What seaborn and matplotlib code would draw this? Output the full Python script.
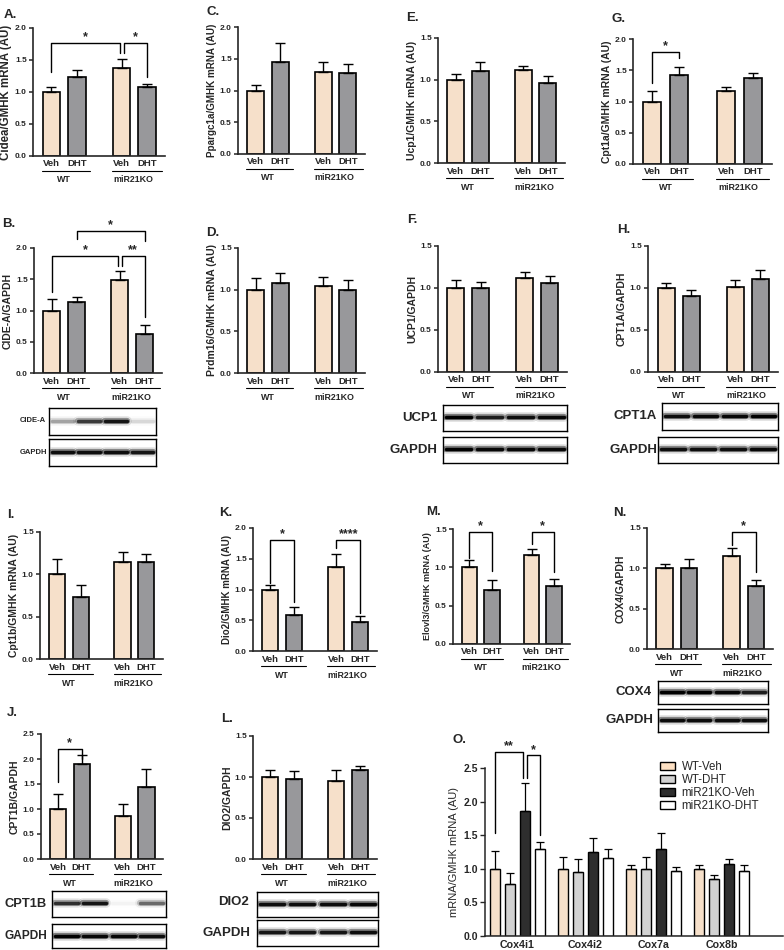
import numpy as np
import pandas as pd
import matplotlib
import matplotlib.pyplot as plt
import seaborn as sns
from matplotlib.transforms import blended_transform_factory, offset_copy
from matplotlib.patches import Patch
from matplotlib.ticker import FormatStrFormatter

# bar layout shared by the small panels
bar_x = [0, 1, 2.75, 3.75]
bar_labels = ["Veh", "DHT", "Veh", "DHT"]
geno_labels = ["WT", "miR21KO"]
geno_x = [0.5, 3.2]

# means / SEM (order: WT-Veh, WT-DHT, KO-Veh, KO-DHT)
A_mean = [1.00, 1.23, 1.37, 1.08]
A_sem = [0.08, 0.11, 0.14, 0.04]
C_mean = [1.00, 1.45, 1.29, 1.28]
C_sem = [0.09, 0.30, 0.16, 0.13]
E_mean = [1.00, 1.11, 1.12, 0.965]
E_sem = [0.07, 0.10, 0.05, 0.085]
G_mean = [1.00, 1.42, 1.17, 1.38]
G_sem = [0.17, 0.14, 0.06, 0.08]
B_mean = [1.00, 1.14, 1.485, 0.63]
B_sem = [0.18, 0.07, 0.145, 0.14]
D_mean = [1.00, 1.08, 1.04, 1.00]
D_sem = [0.145, 0.115, 0.115, 0.115]
F_mean = [1.00, 1.00, 1.12, 1.055]
F_sem = [0.09, 0.07, 0.07, 0.085]
H_mean = [1.00, 0.90, 1.01, 1.11]
H_sem = [0.06, 0.08, 0.08, 0.10]
I_mean = [1.00, 0.73, 1.15, 1.15]
I_sem = [0.18, 0.14, 0.11, 0.09]
K_mean = [1.00, 0.59, 1.37, 0.47]
K_sem = [0.07, 0.13, 0.20, 0.10]
M_mean = [1.00, 0.70, 1.16, 0.76]
M_sem = [0.09, 0.13, 0.08, 0.09]
N_mean = [1.00, 1.00, 1.15, 0.78]
N_sem = [0.05, 0.12, 0.10, 0.08]
J_mean = [1.00, 1.90, 0.86, 1.44]
J_sem = [0.30, 0.18, 0.24, 0.36]
L_mean = [1.00, 0.97, 0.95, 1.08]
L_sem = [0.09, 0.10, 0.14, 0.06]

# panel O
o_genes = ["Cox4i1", "Cox4i2", "Cox7a", "Cox8b"]
o_groups = ["WT-Veh", "WT-DHT", "miR21KO-Veh", "miR21KO-DHT"]
o_wt_veh = [1.00, 1.00, 1.00, 1.00]
o_wt_veh_sem = [0.26, 0.17, 0.06, 0.05]
o_wt_dht = [0.78, 0.955, 1.00, 0.85]
o_wt_dht_sem = [0.16, 0.19, 0.18, 0.065]
o_ko_veh = [1.86, 1.25, 1.30, 1.065]
o_ko_veh_sem = [0.42, 0.21, 0.24, 0.075]
o_ko_dht = [1.29, 1.16, 0.965, 0.97]
o_ko_dht_sem = [0.11, 0.14, 0.065, 0.09]

# western blot band intensities per lane
cidea_bands = [0.25, 0.65, 0.85, 0.1]
gapdh_b_bands = [0.9, 0.9, 0.9, 0.85]
ucp1_bands = [1.0, 0.8, 0.9, 0.95]
gapdh_f_bands = [1.0, 0.95, 0.95, 0.95]
cpt1a_bands = [0.9, 0.95, 0.95, 1.0]
gapdh_h_bands = [0.9, 0.9, 0.9, 0.95]
cox4_bands = [1.0, 1.0, 0.95, 0.8]
gapdh_n_bands = [0.9, 0.9, 0.9, 0.9]
cpt1b_bands = [0.7, 0.85, 0.03, 0.45]
gapdh_j_bands = [1.0, 0.95, 0.95, 0.9]
dio2_bands = [0.9, 0.9, 0.9, 0.95]
gapdh_l_bands = [0.85, 0.85, 0.85, 0.9]

veh_color = "#FDE0C3"
dht_color = "#97979C"
o_palette = {"WT-Veh": "#FDE0C3", "WT-DHT": "#D2D2D2",
             "miR21KO-Veh": "#2E2E2E", "miR21KO-DHT": "#FFFFFF"}

sns.set_style("ticks")
plt.rcParams['font.family'] = ['Liberation Sans', 'DejaVu Sans']
plt.rcParams['font.weight'] = 'bold'
plt.rcParams['axes.labelweight'] = 'bold'

W, H = 784, 950
fig = plt.figure(figsize=(W / 100, H / 100), dpi=100)


def px_axes(l, t, r, b):
    return fig.add_axes([l / W, 1 - b / H, (r - l) / W, (b - t) / H])


def bracket(ax, x1, x2, yt, yl, yr, star):
    ax.plot([x1, x1, x2, x2], [yl, yt, yt, yr], color="black", lw=1.0, clip_on=False)
    ax.annotate(star, xy=((x1 + x2) / 2, yt), xytext=(0, 4), textcoords="offset points",
                ha="center", va="center", fontsize=9, fontweight="bold", annotation_clip=False)


def small_panel(rect, letter, letter_xy, ylabel, means, sems, ymax, brackets=(), ylsize=7.5):
    ax = px_axes(*rect)
    df = pd.DataFrame({"pos": bar_x, "value": means, "treat": bar_labels})
    sns.barplot(data=df, x="pos", y="value", hue="treat", native_scale=True,
                palette={"Veh": veh_color, "DHT": dht_color}, width=0.68, dodge=False,
                edgecolor="black", linewidth=1.2, errorbar=None, legend=False, ax=ax)
    ax.errorbar(bar_x, means, yerr=[np.zeros(4), sems], fmt="none", ecolor="black",
                elinewidth=1.0, capsize=3.5, capthick=1.0)
    ax.set_xlim(-0.72, 4.45)
    ax.set_ylim(0, ymax)
    ax.set_yticks(np.arange(0, ymax + 0.01, 0.5))
    ax.yaxis.set_major_formatter(FormatStrFormatter("%.1f"))
    ax.set_xticks([])
    ax.set_xlabel("")
    ax.set_ylabel(ylabel, fontsize=ylsize, labelpad=2)
    ax.tick_params(axis="y", labelsize=6, length=3, width=1.1, pad=1.5)
    for s in ["top", "right"]:
        ax.spines[s].set_visible(False)
    for s in ["left", "bottom"]:
        ax.spines[s].set_linewidth(1.2)

    base = blended_transform_factory(ax.transData, ax.transAxes)
    t1 = offset_copy(base, fig=fig, y=-8, units="dots")
    for x, lab in zip(bar_x, bar_labels):
        ax.text(x, 0, lab, transform=t1, ha="center", va="center", fontsize=6.8, fontweight="bold")
    t2 = offset_copy(base, fig=fig, y=-15, units="dots")
    for x0, x1 in [(-0.38, 1.5), (2.37, 4.35)]:
        ax.plot([x0, x1], [0, 0], transform=t2, color="black", lw=0.8, clip_on=False)
    t3 = offset_copy(base, fig=fig, y=-24, units="dots")
    for x, lab in zip(geno_x, geno_labels):
        ax.text(x, 0, lab, transform=t3, ha="center", va="center", fontsize=6.4, fontweight="bold")

    for b in brackets:
        bracket(ax, *b)
    fig.text(letter_xy[0] / W, 1 - letter_xy[1] / H, letter, fontsize=9.5,
             fontweight="bold", ha="left", va="center")
    return ax


def blot(rect, label, lanes, fontsize, label_right, label_y):
    ax = px_axes(*rect)
    ax.set_xlim(0, 4)
    ax.set_ylim(0, 1)
    ax.set_xticks([])
    ax.set_yticks([])
    for s in ax.spines.values():
        s.set_visible(True)
        s.set_linewidth(1.0)
        s.set_color("black")
    for i, v in enumerate(lanes):
        xs = [i + 0.1, i + 0.9]
        ax.plot(xs, [0.52, 0.52], color="black", lw=7, alpha=0.12 * v, solid_capstyle="round")
        ax.plot(xs, [0.52, 0.52], color="black", lw=4.5, alpha=0.45 * v, solid_capstyle="round")
        ax.plot(xs, [0.52, 0.52], color="black", lw=2.5, alpha=v, solid_capstyle="round")
    fig.text(label_right / W, 1 - label_y / H, label, ha="right", va="center",
             fontsize=fontsize, fontweight="bold")


# row 1
small_panel((33, 28, 165, 156), "A.", (4, 15), "Cidea/GMHK mRNA (AU)", A_mean, A_sem, 2.0,
            [(0, 2.67, 1.77, 1.32, 1.61, "*"), (2.83, 3.75, 1.77, 1.61, 1.23, "*")], ylsize=8.3)
small_panel((238, 27, 365, 154), "C.", (207, 12), "Ppargc1a/GMHK mRNA (AU)", C_mean, C_sem, 2.0, ylsize=7.1)
small_panel((438, 38, 565, 163), "E.", (406, 18), "Ucp1/GMHK mRNA (AU)", E_mean, E_sem, 1.5)
small_panel((633, 39, 772, 164), "G.", (611, 19), "Cpt1a/GMHK mRNA (AU)", G_mean, G_sem, 2.0,
            [(0, 1, 1.80, 1.29, 1.70, "*")])

# row 2
small_panel((34, 248, 162, 373), "B.", (2, 224), "CIDE-A/GAPDH", B_mean, B_sem, 2.0,
            [(0, 2.67, 1.87, 1.30, 1.72, "*"), (2.83, 3.75, 1.87, 1.72, 0.90, "**"),
             (1, 3.75, 2.27, 2.15, 2.12, "*")])
small_panel((238, 248, 365, 373), "D.", (206, 233), "Prdm16/GMHK mRNA (AU)", D_mean, D_sem, 1.5)
small_panel((438, 246, 567, 372), "F.", (407, 220), "UCP1/GAPDH", F_mean, F_sem, 1.5)
small_panel((648, 246, 778, 372), "H.", (617, 230), "CPT1A/GAPDH", H_mean, H_sem, 1.5)

blot((49, 408, 156, 435), "CIDE-A", cidea_bands, 5.5, 46, 421)
blot((49, 439, 156, 466), "GAPDH", gapdh_b_bands, 5.5, 47, 452)
blot((443, 405, 567, 431), "UCP1", ucp1_bands, 9.5, 437, 418)
blot((443, 437, 567, 463), "GAPDH", gapdh_f_bands, 9.5, 437, 450)
blot((662, 403, 778, 430), "CPT1A", cpt1a_bands, 9.5, 657, 416)
blot((658, 437, 778, 463), "GAPDH", gapdh_h_bands, 9.5, 657, 450)

# row 3
small_panel((40, 532, 163, 659), "I.", (7, 515), "Cpt1b/GMHK mRNA (AU)", I_mean, I_sem, 1.5)
small_panel((253, 528, 377, 651), "K.", (219, 513), "Dio2/GMHK mRNA (AU)", K_mean, K_sem, 2.0,
            [(0, 1, 1.81, 1.10, 0.80, "*"), (2.75, 3.75, 1.81, 1.67, 0.62, "****")], ylsize=7)
small_panel((453, 529, 570, 644), "M.", (426, 512), "Elovl3/GMHK mRNA (AU)", M_mean, M_sem, 1.5,
            [(0, 1, 1.46, 1.12, 0.95, "*"), (2.75, 3.75, 1.46, 1.30, 0.94, "*")], ylsize=6.5)
small_panel((647, 528, 773, 649), "N.", (613, 513), "COX4/GAPDH", N_mean, N_sem, 1.5,
            [(2.75, 3.75, 1.45, 1.29, 0.95, "*")])

blot((658, 681, 768, 704), "COX4", cox4_bands, 9.5, 652, 692)
blot((658, 709, 768, 732), "GAPDH", gapdh_n_bands, 9.5, 653, 720)

# row 4
small_panel((41, 734, 163, 859), "J.", (7, 713), "CPT1B/GAPDH", J_mean, J_sem, 2.5,
            [(0, 1, 2.21, 1.55, 2.01, "*")])
small_panel((253, 736, 377, 859), "L.", (221, 719), "DIO2/GAPDH", L_mean, L_sem, 1.5)

blot((52, 891, 166, 917), "CPT1B", cpt1b_bands, 9.3, 47, 904)
blot((52, 924, 166, 948), "GAPDH", gapdh_j_bands, 8.6, 47, 936)
blot((257, 892, 378, 917), "DIO2", dio2_bands, 9.5, 249, 902)
blot((257, 920, 378, 946), "GAPDH", gapdh_l_bands, 9.5, 250, 933)

# panel O
ax = px_axes(485, 768, 783, 936)
dfo = pd.DataFrame({
    "gene": o_genes * 4,
    "group": sum([[g] * 4 for g in o_groups], []),
    "value": o_wt_veh + o_wt_dht + o_ko_veh + o_ko_dht,
})
sns.barplot(data=dfo, x="gene", y="value", hue="group", hue_order=o_groups, palette=o_palette,
            width=0.88, gap=0.33, edgecolor="black", linewidth=1.0, errorbar=None,
            legend=False, ax=ax)
offsets = [-0.33, -0.11, 0.11, 0.33]
for off, m, s in zip(offsets, [o_wt_veh, o_wt_dht, o_ko_veh, o_ko_dht],
                     [o_wt_veh_sem, o_wt_dht_sem, o_ko_veh_sem, o_ko_dht_sem]):
    ax.errorbar(np.arange(4) + off, m, yerr=[np.zeros(4), s], fmt="none", ecolor="black",
                elinewidth=0.9, capsize=2.8, capthick=0.9)
ax.set_xlim(-0.47, 3.9)
ax.set_ylim(0, 2.5)
ax.set_yticks(np.arange(0, 2.51, 0.5))
ax.yaxis.set_major_formatter(FormatStrFormatter("%.1f"))
ax.set_xlabel("")
ax.set_ylabel("mRNA/GMHK mRNA (AU)", fontsize=8, fontweight="normal", labelpad=3)
ax.tick_params(axis="y", labelsize=7.5, length=3.5, width=1.0, pad=1.5)
ax.tick_params(axis="x", labelsize=7.7, length=0, pad=3)
for s in ["top", "right"]:
    ax.spines[s].set_visible(False)
for s in ["left", "bottom"]:
    ax.spines[s].set_linewidth(1.1)
bracket(ax, -0.33, 0.08, 2.74, 1.53, 2.35, "**")
bracket(ax, 0.14, 0.33, 2.69, 2.35, 1.50, "*")
handles = [Patch(facecolor=o_palette[g], edgecolor="black", linewidth=1.0, label=g) for g in o_groups]
ax.legend(handles=handles, loc="upper left", bbox_to_anchor=(654 / W, 1 - 755 / H),
          bbox_transform=fig.transFigure, frameon=False, prop={"size": 8.3, "weight": "normal"},
          handlelength=1.3, handleheight=0.65, handletextpad=0.6, labelspacing=0.1, borderpad=0)
fig.text(453 / W, 1 - 740 / H, "O.", fontsize=9.5, fontweight="bold", ha="left", va="center")

fig.savefig("out.png", dpi=100)
